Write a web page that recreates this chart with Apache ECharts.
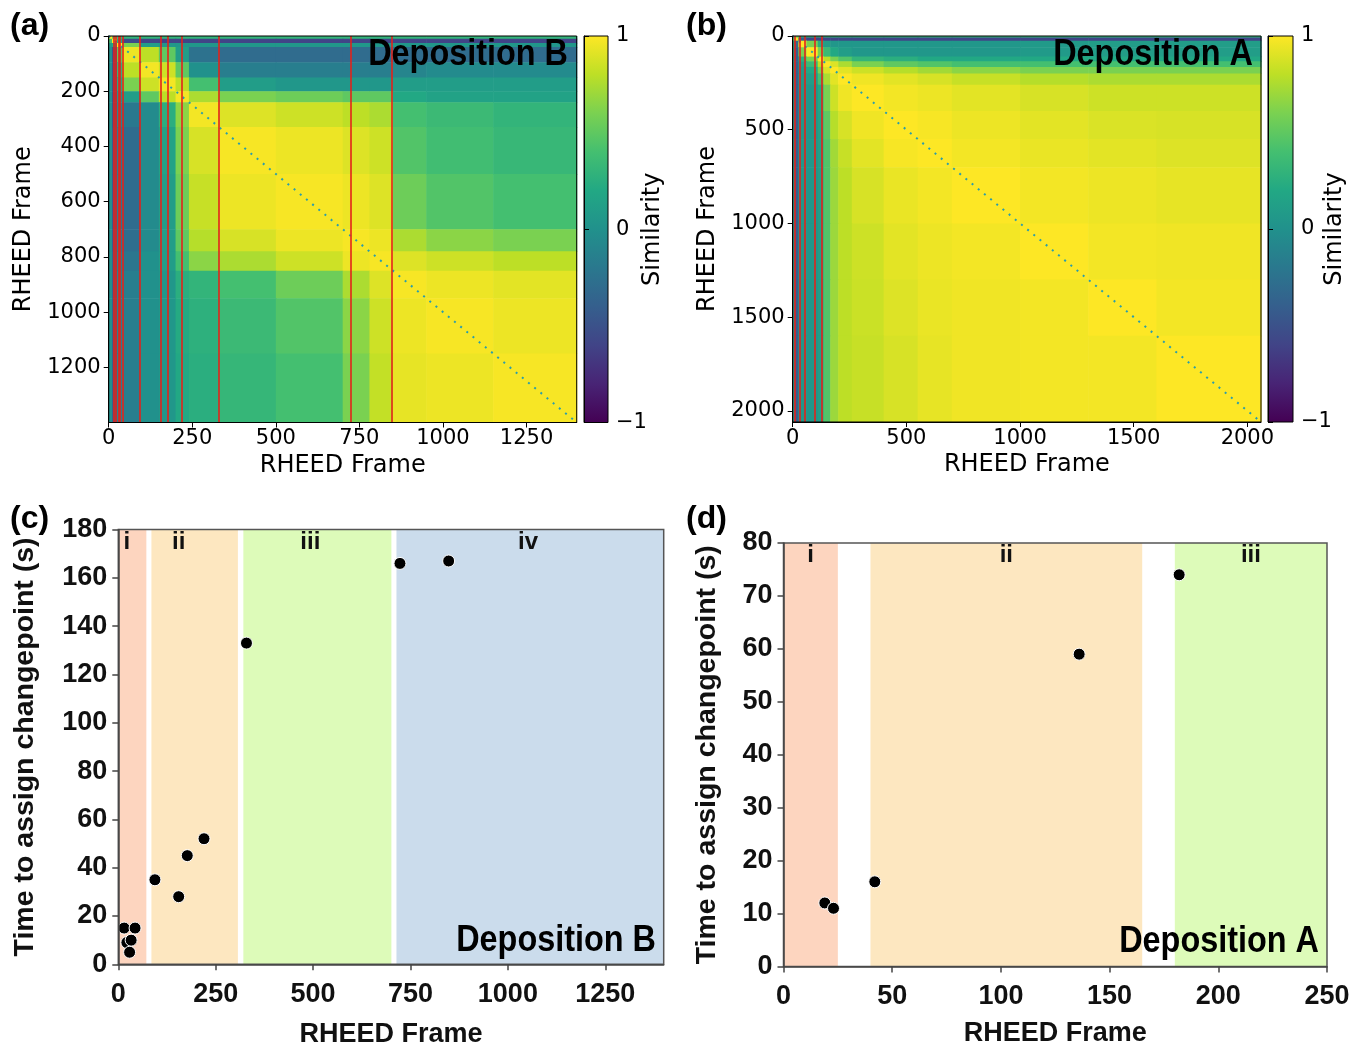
<!DOCTYPE html>
<html>
<head>
<meta charset="utf-8">
<script src="https://cdn.jsdelivr.net/npm/echarts/dist/echarts.min.js"></script>
<style>
  html, body { margin: 0; padding: 0; background: #fff; }
  #chart { width: 1364px; height: 1051px; }
</style>
</head>
<body>
<div id="chart"></div>
<script>
// ---------- Deposition B: frame-to-frame similarity (block matrix) ----------
const framesB = 1400;
const edgesB = [0, 10, 25, 40, 95, 150, 200, 240, 330, 500, 700, 780, 850, 950, 1150, 1400];
// simB[row][col], rows/cols follow edgesB
const simB = [
  [1.0, 0.5, 0.3, 0.3, 0.3, 0.3, 0.3, 0.3, 0.3, 0.3, 0.3, 0.3, 0.3, 0.3, 0.3],
  [0.4, 1.0, 0.2, -0.55, -0.6, -0.6, -0.6, -0.6, -0.6, -0.6, -0.6, -0.6, -0.6, -0.6, -0.6],
  [0.1, 0.2, 1.0, 0.6, 0.1, 0.05, 0.05, 0.05, 0.05, 0.05, 0.05, 0.05, 0.05, 0.05, 0.05],
  [0.0, -0.5, 0.5, 0.95, 0.8, 0.5, 0.1, -0.25, -0.3, -0.3, -0.3, -0.3, -0.3, -0.3, -0.3],
  [0.0, -0.5, 0.3, 0.8, 0.97, 0.85, 0.5, 0.0, -0.15, -0.15, -0.15, -0.15, -0.1, -0.05, -0.05],
  [0.0, -0.5, 0.2, 0.6, 0.85, 0.97, 0.8, 0.4, 0.1, 0.05, 0.05, 0.05, 0.1, 0.1, 0.1],
  [0.0, -0.5, 0.0, 0.1, 0.5, 0.8, 0.97, 0.75, 0.6, 0.55, 0.5, 0.5, 0.2, 0.15, 0.15],
  [0.0, -0.5, -0.1, -0.2, -0.05, 0.25, 0.65, 0.97, 0.9, 0.85, 0.8, 0.75, 0.4, 0.35, 0.3],
  [0.0, -0.45, -0.2, -0.3, -0.05, 0.15, 0.6, 0.88, 0.98, 0.95, 0.9, 0.85, 0.45, 0.38, 0.33],
  [0.0, -0.45, -0.2, -0.3, -0.05, 0.1, 0.55, 0.83, 0.95, 0.98, 0.95, 0.9, 0.55, 0.45, 0.4],
  [0.0, -0.45, -0.2, -0.28, -0.05, 0.1, 0.5, 0.78, 0.88, 0.95, 0.98, 0.95, 0.75, 0.65, 0.6],
  [0.0, -0.4, -0.15, -0.22, 0.0, 0.1, 0.4, 0.65, 0.75, 0.85, 0.95, 0.98, 0.9, 0.85, 0.8],
  [0.0, -0.4, -0.15, -0.15, 0.0, 0.05, 0.25, 0.3, 0.4, 0.55, 0.75, 0.9, 0.98, 0.95, 0.92],
  [0.0, -0.4, -0.15, -0.15, 0.0, 0.05, 0.22, 0.27, 0.35, 0.45, 0.65, 0.85, 0.95, 0.98, 0.95],
  [0.0, -0.4, -0.15, -0.15, 0.0, 0.05, 0.2, 0.25, 0.32, 0.4, 0.6, 0.82, 0.93, 0.95, 0.98]
];

// ---------- Deposition A: frame-to-frame similarity (block matrix) ----------
const framesA = 2060;
const edgesA = [0, 8, 25, 60, 110, 135, 165, 200, 260, 400, 550, 700, 1000, 1300, 1600, 2060];
const simA = [
  [1.0, 0.5, 0.3, 0.3, 0.3, 0.3, 0.3, 0.3, 0.3, 0.3, 0.3, 0.3, 0.3, 0.3, 0.3],
  [0.5, 1.0, -0.4, -0.6, -0.6, -0.6, -0.6, -0.6, -0.6, -0.6, -0.6, -0.6, -0.6, -0.6, -0.6],
  [0.2, -0.3, 1.0, 0.6, 0.25, 0.1, 0.05, 0.05, 0.05, 0.05, 0.05, 0.05, 0.08, 0.1, 0.1],
  [0.1, -0.4, 0.6, 1.0, 0.6, 0.35, 0.2, 0.1, 0.05, 0.05, 0.05, 0.05, 0.08, 0.1, 0.1],
  [0.05, -0.4, 0.25, 0.6, 1.0, 0.8, 0.6, 0.45, 0.3, 0.25, 0.2, 0.2, 0.2, 0.2, 0.2],
  [0.05, -0.4, 0.1, 0.35, 0.8, 1.0, 0.9, 0.75, 0.6, 0.5, 0.45, 0.4, 0.4, 0.4, 0.4],
  [0.05, -0.4, 0.05, 0.2, 0.6, 0.9, 1.0, 0.92, 0.85, 0.78, 0.72, 0.65, 0.6, 0.6, 0.6],
  [0.05, -0.4, 0.05, 0.1, 0.4, 0.75, 0.92, 1.0, 0.96, 0.92, 0.88, 0.83, 0.78, 0.75, 0.75],
  [0.05, -0.4, 0.05, 0.05, 0.2, 0.6, 0.85, 0.96, 1.0, 0.97, 0.95, 0.92, 0.88, 0.85, 0.85],
  [0.05, -0.4, 0.05, 0.05, 0.15, 0.5, 0.78, 0.88, 0.96, 1.0, 0.98, 0.95, 0.92, 0.89, 0.88],
  [0.05, -0.4, 0.05, 0.05, 0.12, 0.45, 0.72, 0.83, 0.92, 0.98, 1.0, 0.97, 0.94, 0.92, 0.9],
  [0.05, -0.4, 0.05, 0.05, 0.1, 0.45, 0.7, 0.8, 0.88, 0.94, 0.97, 1.0, 0.97, 0.95, 0.93],
  [0.05, -0.4, 0.05, 0.05, 0.1, 0.45, 0.7, 0.8, 0.85, 0.92, 0.95, 0.97, 1.0, 0.97, 0.96],
  [0.05, -0.4, 0.05, 0.05, 0.1, 0.45, 0.7, 0.8, 0.84, 0.9, 0.94, 0.96, 0.97, 1.0, 0.97],
  [0.05, -0.4, 0.05, 0.05, 0.1, 0.45, 0.7, 0.8, 0.83, 0.88, 0.93, 0.96, 0.97, 0.97, 1.0]
];

// ---------- Changepoints ----------
const cpFrameB = [15, 22, 29, 33, 43, 94, 155, 177, 220, 329, 723, 848];
const cpTimeB  = [15, 9, 5, 10, 15, 35, 28, 45, 52, 133, 166, 167];
const cpLinesA = [10, 29, 55, 98, 129];
const cpFrameA = [19, 23, 42, 136, 182];
const cpTimeA  = [12, 11, 16, 59, 74];

// ---------- Growth regimes ----------
const bandsB = [[0, 72], [85, 307], [321, 701], [714, 1400]];
const bandNamesB = ['i', 'ii', 'iii', 'iv'];
const bandLabelXB = [22, 155, 493, 1052];
const bandsA = [[0, 25], [40, 165], [180, 250]];
const bandNamesA = ['i', 'ii', 'iii'];
const bandLabelXA = [12.5, 102.5, 215];

// ---------- Tick labels ----------
const frameTicksB = [0, 250, 500, 750, 1000, 1250];
const rowTicksB = [0, 200, 400, 600, 800, 1000, 1200];
const frameTicksA = [0, 500, 1000, 1500, 2000];
const frameTicksC = [0, 250, 500, 750, 1000, 1250];
const frameTicksD = [0, 50, 100, 150, 200, 250];
const simRange = [-1, 1];

const viridis = ['#440154', '#482475', '#414487', '#355f8d', '#2a788e', '#21918c',
                 '#22a884', '#44bf70', '#7ad151', '#bddf26', '#fde725'];
const bandColors = ['#fdd5bf', '#fde7c0', '#ddfbb9', '#cbdcec'];

const heatFont = 'DejaVu Sans';
const boldFont = 'Liberation Sans';
const plain = v => String(v);

// Expand a block matrix into rectangles [x0, x1, y0, y1, value]
function blockCells(edges, sim) {
  const out = [];
  for (let i = 0; i < edges.length - 1; i++) {
    for (let j = 0; j < edges.length - 1; j++) {
      out.push([edges[j], edges[j + 1], edges[i], edges[i + 1], sim[i][j]]);
    }
  }
  return out;
}

function heatSeries(cells, idx) {
  return {
    type: 'custom', xAxisIndex: idx, yAxisIndex: idx, data: cells, clip: true, silent: true,
    encode: { x: [0, 1], y: [2, 3] },
    renderItem: function (params, api) {
      const a = api.coord([api.value(0), api.value(2)]);
      const b = api.coord([api.value(1), api.value(3)]);
      return {
        type: 'rect',
        shape: { x: Math.min(a[0], b[0]), y: Math.min(a[1], b[1]),
                 width: Math.abs(b[0] - a[0]) + 0.6, height: Math.abs(b[1] - a[1]) + 0.6 },
        style: { fill: api.visual('color') }
      };
    }
  };
}

function diagSeries(frames, lines, idx) {
  return {
    type: 'line', xAxisIndex: idx, yAxisIndex: idx, z: 3, silent: true,
    data: [[0, 0], [frames, frames]], showSymbol: false, symbol: 'none',
    lineStyle: { color: '#2a9dab', width: 2, type: [2, 6] },
    markLine: {
      silent: true, symbol: ['none', 'none'], label: { show: false }, animation: false,
      lineStyle: { color: '#e3231b', width: 1.6, type: 'solid' },
      data: lines.map(f => ({ xAxis: f }))
    }
  };
}

function colorbarSeries(idx) {
  const stops = viridis.map((c, i) => ({ offset: i / (viridis.length - 1), color: c }));
  return {
    type: 'custom', xAxisIndex: idx, yAxisIndex: idx, silent: true,
    data: [[0, simRange[0], 1, simRange[1]]],
    encode: { x: [0, 2], y: [1, 3] },
    renderItem: function (params, api) {
      const a = api.coord([api.value(0), api.value(1)]);
      const b = api.coord([api.value(2), api.value(3)]);
      return {
        type: 'rect',
        shape: { x: a[0], y: b[1], width: b[0] - a[0], height: a[1] - b[1] },
        style: { fill: new echarts.graphic.LinearGradient(0, 1, 0, 0, stops) }
      };
    }
  };
}

function heatXAxis(idx, max, ticks) {
  return {
    gridIndex: idx, type: 'value', min: 0, max: max, z: 11,
    axisLine: { show: true, onZero: false, lineStyle: { color: '#000', width: 1 } },
    axisTick: { show: true, inside: false, length: 5, customValues: ticks, lineStyle: { color: '#000', width: 1 } },
    axisLabel: { show: true, customValues: ticks, formatter: plain, margin: 6, fontFamily: heatFont, fontSize: 21, color: '#000' },
    splitLine: { show: false },
    name: 'RHEED Frame', nameLocation: 'middle', nameGap: 31, nameMoveOverlap: false,
    nameTextStyle: { fontFamily: heatFont, fontSize: 24, color: '#000' }
  };
}
function heatYAxis(idx, max, ticks, gap) {
  return {
    gridIndex: idx, type: 'value', min: 0, max: max, inverse: true, z: 11,
    axisLine: { show: true, onZero: false, lineStyle: { color: '#000', width: 1 } },
    axisTick: { show: true, inside: false, length: 5, customValues: ticks, lineStyle: { color: '#000', width: 1 } },
    axisLabel: { show: true, customValues: ticks, formatter: plain, margin: 8, fontFamily: heatFont, fontSize: 21, color: '#000' },
    splitLine: { show: false },
    name: 'RHEED Frame', nameLocation: 'middle', nameGap: gap, nameRotate: 90, nameMoveOverlap: false,
    nameTextStyle: { fontFamily: heatFont, fontSize: 24, color: '#000' }
  };
}
function cbXAxis(idx) {
  return { gridIndex: idx, type: 'value', min: 0, max: 1, show: false };
}
function cbYAxis(idx, gap) {
  return {
    gridIndex: idx, type: 'value', min: simRange[0], max: simRange[1], interval: 1, position: 'right', z: 11,
    axisLine: { show: true, lineStyle: { color: '#000', width: 1 } },
    axisTick: { show: true, inside: false, length: 5, lineStyle: { color: '#000', width: 1 } },
    axisLabel: { show: true, margin: 8, fontFamily: heatFont, fontSize: 21, color: '#000',
                 formatter: v => (v < 0 ? '\u2212' + Math.abs(v) : String(v)) },
    splitLine: { show: false },
    name: 'Similarity', nameLocation: 'middle', nameGap: gap, nameRotate: 90, nameMoveOverlap: false,
    nameTextStyle: { fontFamily: heatFont, fontSize: 24, color: '#000' }
  };
}

function plotXAxis(idx, max, ticks, gap) {
  return {
    gridIndex: idx, type: 'value', min: 0, max: max, z: 11,
    axisLine: { show: true, onZero: false, lineStyle: { color: '#444', width: 1.5 } },
    axisTick: { show: true, inside: false, length: 6, customValues: ticks, lineStyle: { color: '#444', width: 1.5 } },
    axisLabel: { show: true, customValues: ticks, formatter: plain, margin: 17, fontFamily: boldFont, fontWeight: 'bold', fontSize: 27, color: '#111' },
    splitLine: { show: false },
    name: 'RHEED Frame', nameLocation: 'middle', nameGap: gap, nameMoveOverlap: false,
    nameTextStyle: { fontFamily: boldFont, fontWeight: 'bold', fontSize: 27, color: '#111' }
  };
}
function plotYAxis(idx, max, interval, gap) {
  return {
    gridIndex: idx, type: 'value', min: 0, max: max, interval: interval, z: 11,
    axisLine: { show: true, onZero: false, lineStyle: { color: '#444', width: 1.5 } },
    axisTick: { show: true, inside: false, length: 6, lineStyle: { color: '#444', width: 1.5 } },
    axisLabel: { show: true, formatter: plain, margin: 11, fontFamily: boldFont, fontWeight: 'bold', fontSize: 27, color: '#111' },
    splitLine: { show: false },
    name: 'Time to assign changepoint (s)', nameLocation: 'middle', nameGap: gap, nameRotate: 90, nameMoveOverlap: false,
    nameTextStyle: { fontFamily: boldFont, fontWeight: 'bold', fontSize: 28.5, color: '#111' }
  };
}

function pointsSeries(idx, frames, times, bands) {
  return {
    type: 'scatter', xAxisIndex: idx, yAxisIndex: idx, silent: true, z: 5,
    data: frames.map((f, i) => [f, times[i]]),
    symbol: 'circle', symbolSize: 12,
    itemStyle: { color: '#000', borderColor: '#fff', borderWidth: 1, opacity: 1 },
    markArea: {
      silent: true, animation: false,
      data: bands.map((b, i) => [{ xAxis: b[0], itemStyle: { color: bandColors[i], opacity: 1 } }, { xAxis: b[1] }])
    }
  };
}
function bandLabelSeries(idx, names, xs, top) {
  return {
    type: 'scatter', xAxisIndex: idx, yAxisIndex: idx, silent: true, z: 6,
    symbolSize: 1, itemStyle: { color: 'rgba(0,0,0,0)' },
    data: names.map((n, i) => ({ name: n, value: [xs[i], top] })),
    label: { show: true, position: 'bottom', distance: 0, formatter: '{b}',
             fontFamily: boldFont, fontWeight: 'bold', fontSize: 24, color: '#111', opacity: 1 }
  };
}

function gridBox(left, top, width, height, color, w) {
  return { left: left, top: top, width: width, height: height, containLabel: false,
           outerBoundsMode: 'none', show: true, z: 10,
           backgroundColor: 'rgba(0,0,0,0)', borderColor: color, borderWidth: w };
}

function label(text, x, y, size, align, scaleX) {
  return {
    type: 'text', x: x, y: y, scaleX: scaleX || 1, z: 100, silent: true,
    style: { text: text, font: 'bold ' + size + 'px "' + boldFont + '"', fill: '#000',
             align: align, verticalAlign: 'middle', textAlign: align, textVerticalAlign: 'middle' }
  };
}

const chart = echarts.init(document.getElementById('chart'), null, { renderer: 'canvas' });

chart.setOption({
  animation: false,
  backgroundColor: '#fff',
  grid: [
    gridBox(108.7, 36, 468, 386.5, '#000', 1),
    gridBox(584, 36, 24, 386.5, '#000', 1),
    gridBox(792.7, 36, 468.3, 386, '#000', 1),
    gridBox(1268, 36, 25, 386, '#000', 1),
    gridBox(118.3, 529.6, 545.4, 434.7, '#555', 1.5),
    gridBox(783.5, 543, 543.5, 423.5, '#555', 1.5)
  ],
  xAxis: [
    heatXAxis(0, framesB, frameTicksB),
    cbXAxis(1),
    heatXAxis(2, framesA, frameTicksA),
    cbXAxis(3),
    plotXAxis(4, 1400, frameTicksC, 57),
    plotXAxis(5, 250, frameTicksD, 54)
  ],
  yAxis: [
    heatYAxis(0, framesB, rowTicksB, 73),
    cbYAxis(1, 33),
    heatYAxis(2, framesA, frameTicksA, 73),
    cbYAxis(3, 30),
    plotYAxis(4, 180, 20, 79),
    plotYAxis(5, 80, 10, 62)
  ],
  visualMap: [{
    type: 'continuous', show: false, min: simRange[0], max: simRange[1], dimension: 4,
    seriesIndex: [0, 3], inRange: { color: viridis }
  }],
  series: [
    heatSeries(blockCells(edgesB, simB), 0),
    diagSeries(framesB, cpFrameB, 0),
    colorbarSeries(1),
    heatSeries(blockCells(edgesA, simA), 2),
    diagSeries(framesA, cpLinesA, 2),
    colorbarSeries(3),
    pointsSeries(4, cpFrameB, cpTimeB, bandsB),
    bandLabelSeries(4, bandNamesB, bandLabelXB, 180),
    pointsSeries(5, cpFrameA, cpTimeA, bandsA),
    bandLabelSeries(5, bandNamesA, bandLabelXA, 80)
  ],
  graphic: [
    label('(a)', 10, 26, 32, 'left'),
    label('(b)', 686, 26, 32, 'left'),
    label('(c)', 10, 519, 32, 'left'),
    label('(d)', 686, 519, 32, 'left'),
    label('Deposition B', 568, 55, 36, 'right', 0.9),
    label('Deposition A', 1253, 55, 36, 'right', 0.9),
    label('Deposition B', 656, 941, 36, 'right', 0.9),
    label('Deposition A', 1319, 942, 36, 'right', 0.9)
  ]
});
</script>
</body>
</html>
